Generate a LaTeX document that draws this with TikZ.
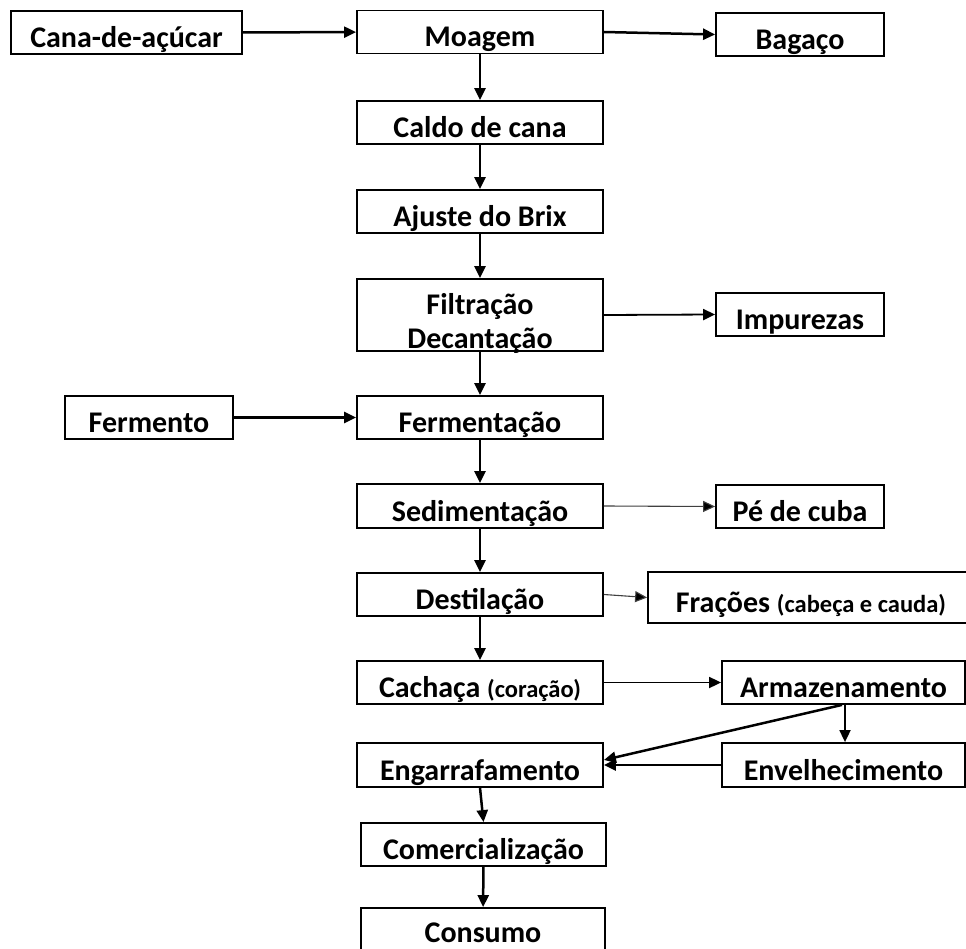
\documentclass[tikz,border=0pt]{standalone}
\usepackage{fontspec}
\setmainfont{Carlito}
\usetikzlibrary{arrows.meta,calc}
\newcommand{\smalltxt}[1]{{\fontsize{24.5}{28}\selectfont #1}}
\begin{document}
\begin{tikzpicture}[x=1pt,y=-1pt,
  box/.style={draw=black,line width=1.8pt,inner sep=0pt,
    font=\bfseries\fontsize{30}{34}\selectfont,
    text height=30pt,text depth=0pt,minimum height=43pt},
  mainbox/.style={box,minimum width=246pt},
  sidebox/.style={box,minimum width=168pt},
  arr/.style={line width=2.5pt,-{Triangle[length=12pt,width=11pt]}},
  tarr/.style={line width=1.8pt,-{Triangle[length=12pt,width=11pt]}},
  farr/.style={line width=1.1pt,draw=black!75,-{Triangle[length=12pt,width=11pt,fill=black]}}]
\clip (0,0) rectangle (966,949);
\fill[white] (0,0) rectangle (966,949);

% main column
\node[box,minimum width=231pt] (cana) at (126.5,32.5) {Cana-de-açúcar};
\node[mainbox] (moagem) at (480,32) {Moagem};
\node[sidebox] (bagaco) at (800,34.5) {Bagaço};
\node[mainbox] (caldo) at (480,122.5) {Caldo de cana};
\node[mainbox] (ajuste) at (480,211.5) {Ajuste do Brix};
\node[mainbox,minimum height=72pt,align=center,text height=66.6pt,text depth=0pt] (filtra) at (480,315) {Filtração\\Decantação};
\node[sidebox] (impurezas) at (800,314.5) {Impurezas};
\node[sidebox] (fermento) at (149,417.5) {Fermento};
\node[mainbox] (fermentacao) at (480,417.5) {Fermentação};
\node[mainbox,minimum height=44pt] (sedim) at (480,506) {Sedimentação};
\node[sidebox] (pe) at (800,506.5) {Pé de cuba};
\node[mainbox] (destil) at (480,594.5) {Destilação};
\node[box,minimum width=326pt,minimum height=51pt] (fracoes) at (811,597.5) {Frações \smalltxt{(cabeça e cauda)}};
\node[mainbox] (cachaca) at (480,682.5) {Cachaça \smalltxt{(coração)}};
\node[box,minimum width=243pt] (armaz) at (843.5,682.5) {Armazenamento};
\node[mainbox,minimum height=44pt] (engarr) at (480,765) {Engarrafamento};
\node[box,minimum width=243pt,minimum height=44pt] (envelh) at (843.5,765) {Envelhecimento};
\node[box,minimum width=245pt] (comerc) at (483.5,844.5) {Comercialização};
\node[box,minimum width=244pt,minimum height=44pt,text height=25pt] (consumo) at (483,930) {Consumo};

% connectors
\draw[arr] (cana) -- (moagem);
\draw[arr] (moagem.east) -- (bagaco.west);
\draw[arr] (moagem) -- (caldo);
\draw[arr] (caldo) -- (ajuste);
\draw[arr] (ajuste) -- (filtra);
\draw[tarr] (filtra.east) -- (impurezas.west);
\draw[arr] (filtra) -- (fermentacao);
\draw[arr] (fermento) -- (fermentacao);
\draw[arr] (fermentacao) -- (sedim);
\draw[farr] (sedim.east) -- (pe.west);
\draw[arr] (sedim) -- (destil);
\draw[farr] (destil.east) -- (fracoes.west);
\draw[arr] (destil) -- (cachaca);
\draw[tarr] (cachaca) -- (armaz);
\draw[tarr] ($(armaz.south)+(1.5,0)$) -- ($(envelh.north)+(1.5,0)$);
\draw[arr] ($(armaz.south)+(-1.5,0)$) -- ($(engarr.east)+(0,-5)$);
\draw[arr] (envelh.west) -- (engarr.east);
\draw[arr] (engarr.south) -- (comerc.north);
\draw[arr] (comerc) -- (consumo);
\end{tikzpicture}
\end{document}
